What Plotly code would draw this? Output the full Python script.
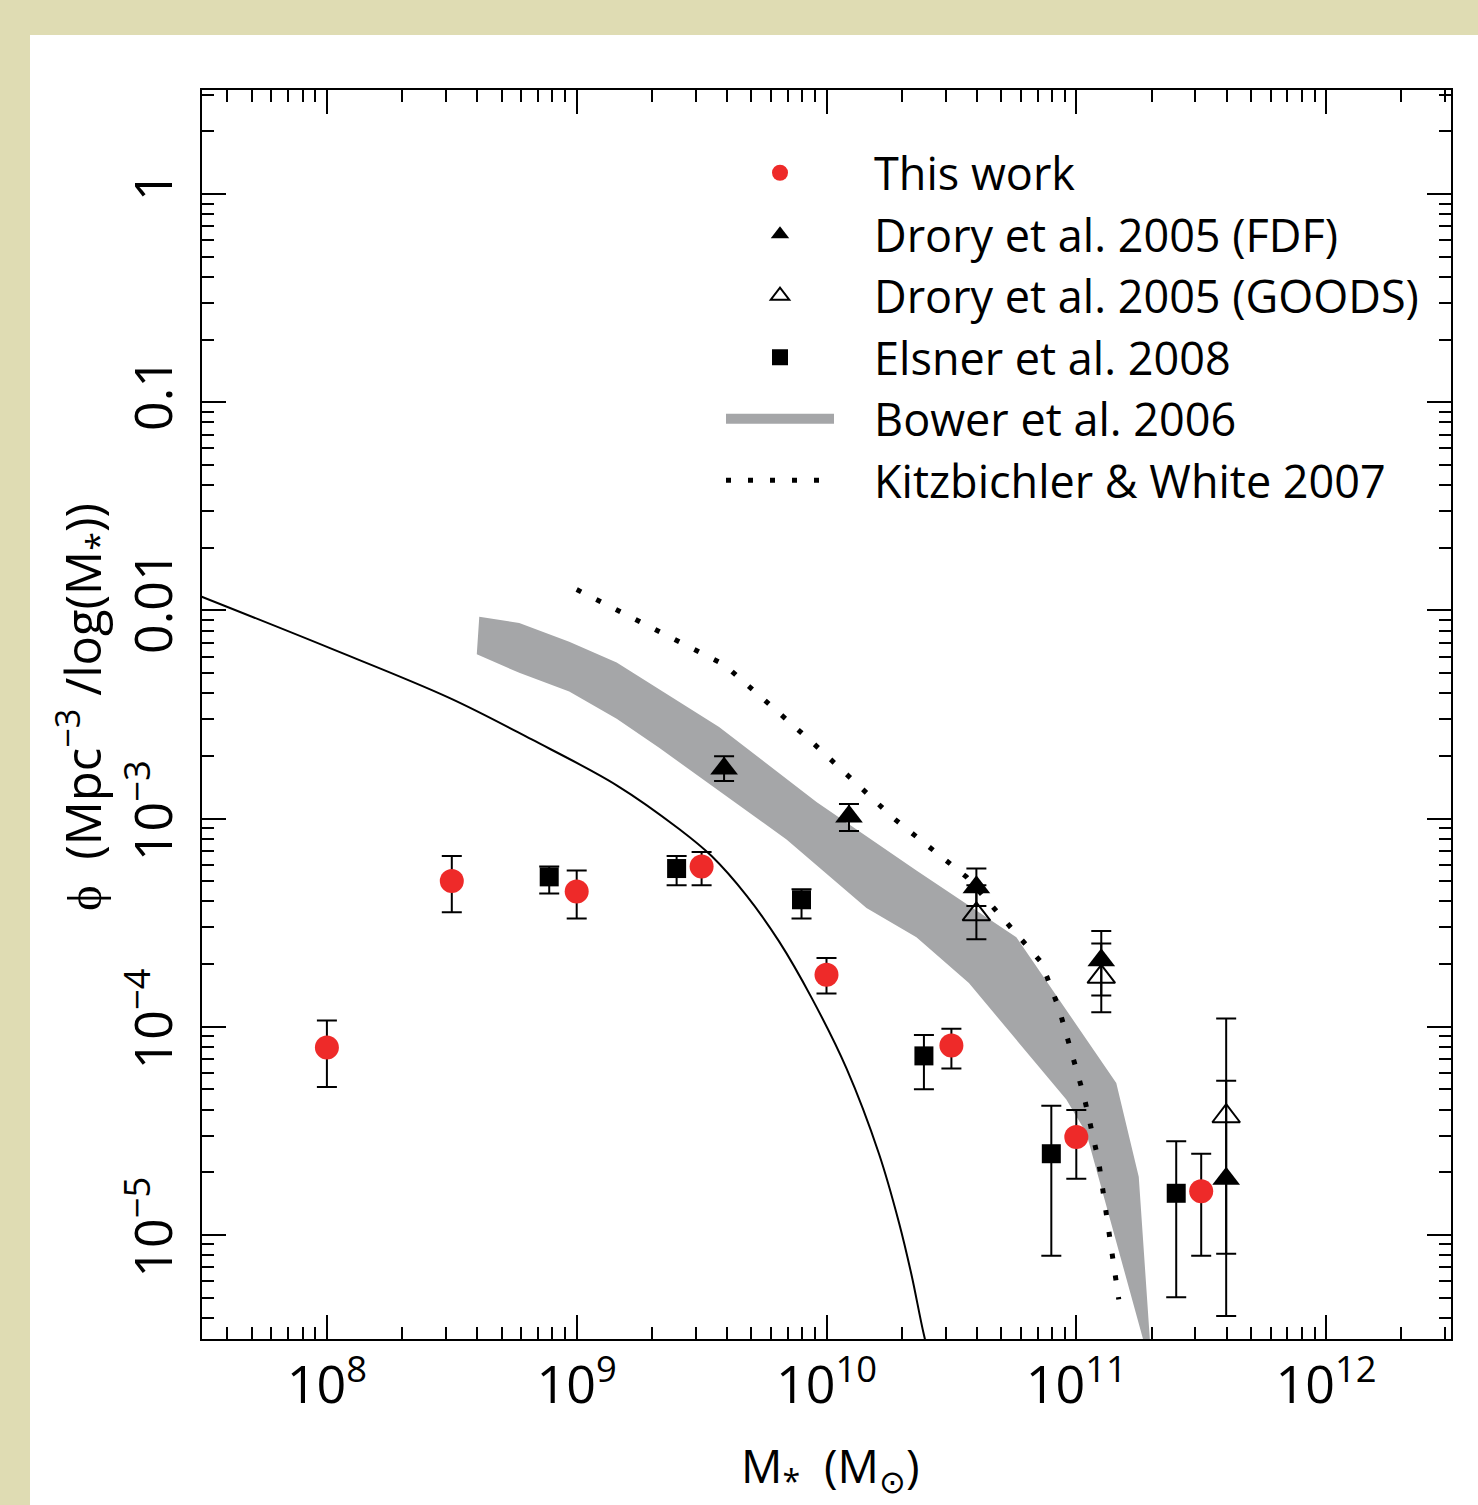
import numpy as np
import plotly.graph_objects as go

# all values are log10
this_logm = [8.0, 8.5, 9.0, 9.5, 10.0, 10.5, 11.0, 11.5]
this_logphi = [-4.10, -3.30, -3.35, -3.23, -3.75, -4.09, -4.53, -4.79]
this_hi = [-3.97, -3.18, -3.25, -3.16, -3.67, -4.01, -4.40, -4.61]
this_lo = [-4.29, -3.45, -3.48, -3.32, -3.84, -4.20, -4.73, -5.10]

elsner_logm = [8.89, 9.40, 9.90, 10.39, 10.90, 11.40]
elsner_logphi = [-3.28, -3.24, -3.39, -4.14, -4.61, -4.80]
elsner_hi = [-3.23, -3.18, -3.34, -4.04, -4.38, -4.55]
elsner_lo = [-3.36, -3.32, -3.48, -4.30, -5.10, -5.30]

fdf_logm = [9.59, 10.09, 10.60, 11.10, 11.60]
fdf_logphi = [-2.76, -2.99, -3.33, -3.68, -4.73]
fdf_hi = [-2.70, -2.93, -3.24, -3.54, -3.96]
fdf_lo = [-2.82, -3.06, -3.42, -3.85, -5.39]

goods_logm = [10.60, 11.10, 11.60]
goods_logphi = [-3.46, -3.76, -4.43]
goods_hi = [-3.32, -3.60, -4.26]
goods_lo = [-3.58, -3.93, -5.09]

# Bower et al. 2006 band edges
bower_up_logm = [8.61, 8.77, 8.97, 9.16, 9.57, 9.96, 10.36, 10.76, 11.16, 11.25, 11.30]
bower_up_logphi = [-2.03, -2.06, -2.15, -2.25, -2.56, -2.92, -3.25, -3.57, -4.27, -4.72, -5.60]
bower_lo_logm = [8.60, 8.77, 8.97, 9.16, 9.33, 9.84, 10.16, 10.36, 10.57, 10.96, 11.04, 11.29]
bower_lo_logphi = [-2.21, -2.30, -2.39, -2.52, -2.66, -3.10, -3.43, -3.57, -3.79, -4.35, -4.51, -5.60]

# Kitzbichler & White 2007
kw_logm = [9.00, 9.59, 9.94, 10.27, 10.56, 10.74, 10.86, 10.93, 10.98, 11.03, 11.09, 11.13, 11.17]
kw_logphi = [-1.90, -2.26, -2.63, -3.00, -3.28, -3.53, -3.69, -3.91, -4.12, -4.33, -4.65, -4.98, -5.31]

# solid curve
fit_logm = [7.49, 8.01, 8.49, 8.82, 9.16, 9.41, 9.54, 9.68, 9.81, 9.94, 10.08, 10.21, 10.29, 10.34, 10.39, 10.43]
fit_logphi = [-1.93, -2.18, -2.42, -2.62, -2.84, -3.05, -3.18, -3.37, -3.59, -3.86, -4.20, -4.61, -4.94, -5.19, -5.48, -5.67]


def lin(a):
    return 10 ** np.array(a)


def errs(y, hi, lo):
    y = lin(y)
    return lin(hi) - y, y - lin(lo)


W, H = 1478, 1505
ML, MR, MT, MB = 202, 27, 90, 166
PW, PH = W - ML - MR, H - MT - MB
GRAY = '#a5a6a8'
PAD = '\u00a0\u00a0\u00a0'

fig = go.Figure()

fig.add_trace(go.Scatter(
    x=lin(bower_up_logm + bower_lo_logm[::-1]),
    y=lin(bower_up_logphi + bower_lo_logphi[::-1]),
    mode='lines', fill='toself', fillcolor=GRAY,
    line=dict(width=0, color=GRAY),
    showlegend=False,
))
# legend key for the band
fig.add_trace(go.Scatter(
    name=PAD + 'Bower et al. 2006', x=[None], y=[None],
    mode='lines', line=dict(color=GRAY, width=22),
    legendrank=5,
))

fig.add_trace(go.Scatter(
    name=PAD + 'Kitzbichler & White 2007',
    x=lin(kw_logm), y=lin(kw_logphi),
    mode='lines',
    line=dict(color='black', width=5, dash='5px,17px'),
    legendrank=6,
))

fig.add_trace(go.Scatter(
    x=lin(fit_logm), y=lin(fit_logphi),
    mode='lines',
    line=dict(color='black', width=2, shape='spline', smoothing=1),
    showlegend=False,
))

up, dn = errs(elsner_logphi, elsner_hi, elsner_lo)
fig.add_trace(go.Scatter(
    name=PAD + 'Elsner et al. 2008',
    x=lin(elsner_logm), y=lin(elsner_logphi),
    mode='markers',
    marker=dict(symbol='square', size=19, color='black'),
    error_y=dict(type='data', symmetric=False, array=up, arrayminus=dn,
                 color='black', thickness=2, width=10),
    legendrank=4,
))

up, dn = errs(this_logphi, this_hi, this_lo)
fig.add_trace(go.Scatter(
    name=PAD + 'This work',
    x=lin(this_logm), y=lin(this_logphi),
    mode='markers',
    marker=dict(symbol='circle', size=24, color='#ee2a29'),
    error_y=dict(type='data', symmetric=False, array=up, arrayminus=dn,
                 color='black', thickness=2, width=10),
    legendrank=1,
))

up, dn = errs(goods_logphi, goods_hi, goods_lo)
fig.add_trace(go.Scatter(
    name=PAD + 'Drory et al. 2005 (GOODS)',
    x=lin(goods_logm), y=lin(goods_logphi),
    mode='markers',
    marker=dict(symbol='triangle-up-open', size=24, color='black', line=dict(width=2)),
    error_y=dict(type='data', symmetric=False, array=up, arrayminus=dn,
                 color='black', thickness=2, width=10),
    legendrank=3,
))

up, dn = errs(fdf_logphi, fdf_hi, fdf_lo)
fig.add_trace(go.Scatter(
    name=PAD + 'Drory et al. 2005 (FDF)',
    x=lin(fdf_logm), y=lin(fdf_logphi),
    mode='markers',
    marker=dict(symbol='triangle-up', size=24, color='black'),
    error_y=dict(type='data', symmetric=False, array=up, arrayminus=dn,
                 color='black', thickness=2, width=10),
    legendrank=2,
))

x_ticks = [1e8, 1e9, 1e10, 1e11, 1e12]
x_text = ['10<sup>8</sup>', '10<sup>9</sup>', '10<sup>10</sup>', '10<sup>11</sup>', '10<sup>12</sup>']
y_ticks = [1e-5, 1e-4, 1e-3, 1e-2, 1e-1, 1]
y_text = ['10<sup>\u22125</sup>', '10<sup>\u22124</sup>', '10<sup>\u22123</sup>', '0.01', '0.1', '1']
x_minor = [d * 10.0 ** e for e in range(7, 13) for d in range(2, 10)]
y_minor = [d * 10.0 ** e for e in range(-6, 1) for d in range(2, 10)]

axis_common = dict(
    type='log', showgrid=False, zeroline=False,
    showline=True, linecolor='black', linewidth=2, mirror='ticks',
    ticks='inside', ticklen=24, tickwidth=2, tickcolor='black',
    tickfont=dict(size=52, color='black'), automargin=False,
)
minor_common = dict(tickmode='array', ticks='inside', ticklen=12,
                    tickwidth=2, tickcolor='black', showgrid=False)

fig.update_layout(
    width=W, height=H,
    margin=dict(l=ML, r=MR, t=MT, b=MB),
    paper_bgcolor='#dfdcb3', plot_bgcolor='white',
    font=dict(family='Open Sans', color='black'),
    showlegend=True,
    legend=dict(x=(721 - ML) / PW, y=(H - MB - 137) / PH, xanchor='left', yanchor='top',
                bgcolor='rgba(0,0,0,0)', borderwidth=0, itemwidth=108,
                font=dict(size=45, color='black')),
    xaxis=dict(axis_common, range=[7.5, 12.5], tickmode='array', tickvals=x_ticks, ticktext=x_text,
               ticklabelstandoff=0, minor=dict(minor_common, tickvals=x_minor)),
    yaxis=dict(axis_common, range=[-5.5, 0.5], tickmode='array', tickvals=y_ticks, ticktext=y_text,
               tickangle=-90, ticklabelstandoff=7, minor=dict(minor_common, tickvals=y_minor)),
    annotations=[
        dict(text='\u03d5  (Mpc<sup>\u22123</sup> /log(M<sub>*</sub>))', textangle=-90,
             xref='paper', yref='paper', x=(82 - ML) / PW, y=(H - MB - 707) / PH,
             xanchor='center', yanchor='middle', showarrow=False,
             font=dict(size=49, color='black')),
        dict(text='M<sub>*</sub>  (M<sub>\u2299</sub>)',
             xref='paper', yref='paper', x=(830 - ML) / PW, y=(H - MB - 1504) / PH,
             xanchor='center', yanchor='bottom', showarrow=False,
             font=dict(size=46, color='black')),
    ],
    shapes=[dict(type='rect', xref='paper', yref='paper', layer='below',
                 x0=(30 - ML) / PW, x1=(W + 10 - ML) / PW,
                 y0=(H - MB - H - 10) / PH, y1=(H - MB - 35) / PH,
                 fillcolor='white', line=dict(width=0))],
)

fig.write_html('out.html', config={'displayModeBar': False},
               post_script="document.body.style.margin='0';document.body.style.overflow='hidden';")
